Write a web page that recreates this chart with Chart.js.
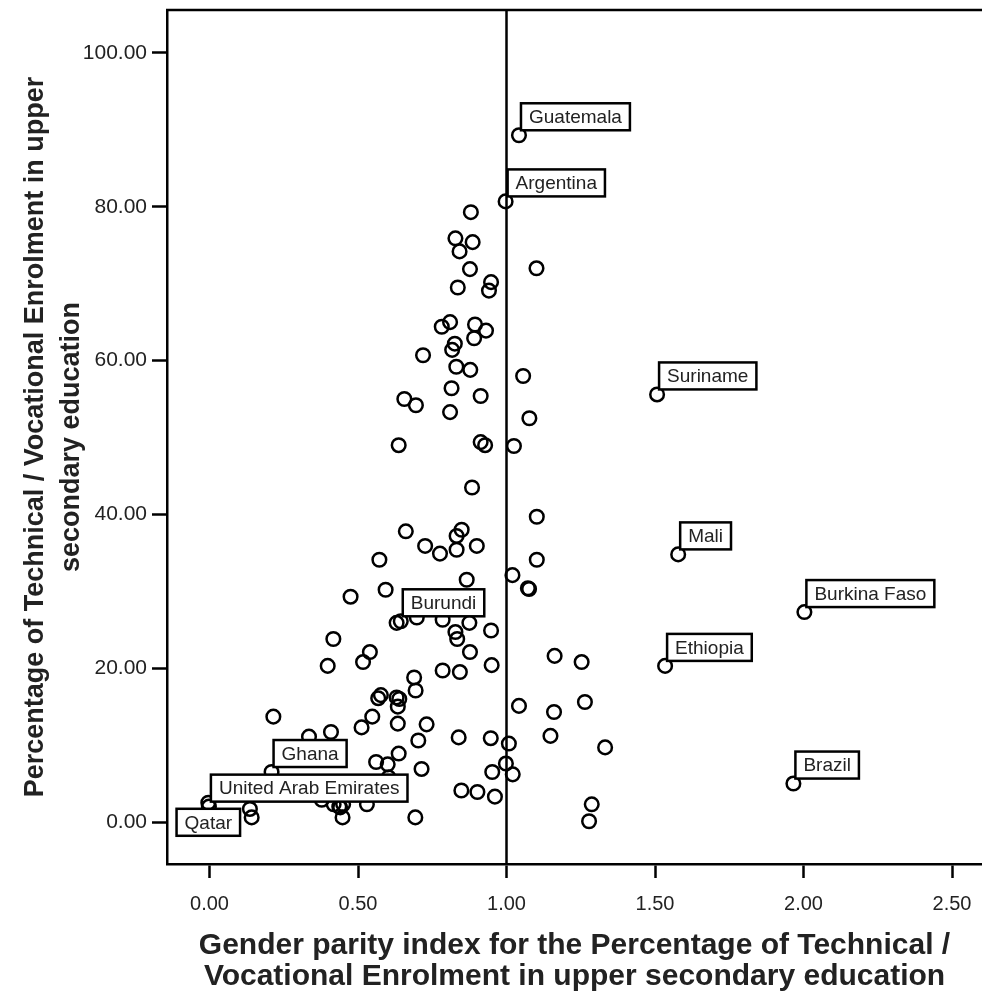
<!DOCTYPE html>
<html>
<head>
<meta charset="utf-8">
<script src="https://cdn.jsdelivr.net/npm/chart.js@4.4.1/dist/chart.umd.min.js"></script>
<style>
  html, body { margin: 0; padding: 0; background: #fff; }
  #wrap { width: 982px; height: 995px; }
</style>
</head>
<body>
<div id="wrap"><canvas id="myChart" width="982" height="995"></canvas></div>
<script>

// gender parity index (x) and % technical/vocational enrolment (y)
const gpi = [
  1.042, 0.997, 0.880, 0.828, 0.886, 0.842, 1.101, 0.877, 0.836, 0.948,
  0.941, 0.810, 0.782, 0.894, 0.931, 0.891, 0.826, 0.817, 0.719, 0.831,
  0.878, 1.056, 0.815, 0.913, 0.656, 0.695, 0.810, 1.077, 1.507, 0.637,
  0.913, 0.928, 1.025, 0.884, 1.102, 0.661, 0.849, 0.832, 0.726, 0.776,
  0.832, 0.900, 0.572, 1.102, 1.578, 0.866, 1.020, 1.072, 1.076, 0.593,
  0.475, 2.003, 0.630, 0.644, 0.698, 0.785, 0.875, 0.948, 0.828, 0.834,
  0.877, 1.162, 1.253, 0.417, 0.540, 0.517, 0.398, 0.785, 0.843, 0.950,
  1.534, 0.689, 0.694, 0.577, 0.568, 0.630, 0.639, 0.634, 1.042, 1.264,
  1.160, 0.548, 0.215, 0.512, 0.634, 0.731, 0.335, 0.409, 0.703, 0.839,
  0.947, 1.008, 1.148, 1.332, 0.637, 0.561, 0.600, 0.714, 0.998, 0.952,
  1.021, 0.209, 0.603, 1.966, 0.848, 0.902, 0.961, 0.378, 0.418, 0.437,
  0.450, 0.440, 0.530, 1.287, -0.004, -0.002, 0.136, 0.142, 0.448, 0.693,
  1.278
];
const pct = [
  89.3, 80.7, 79.3, 75.9, 75.4, 74.2, 72.0, 71.9, 69.5, 70.2,
  69.1, 65.0, 64.4, 64.7, 63.9, 62.9, 62.2, 61.4, 60.7, 59.2,
  58.8, 58.0, 56.4, 55.4, 55.0, 54.2, 53.3, 52.5, 55.6, 49.0,
  49.4, 49.0, 48.9, 43.5, 39.7, 37.8, 38.0, 37.2, 35.9, 34.9,
  35.4, 35.9, 34.1, 34.1, 34.8, 31.5, 32.1, 30.4, 30.3, 30.2,
  29.3, 27.3, 25.9, 26.1, 26.6, 26.3, 25.9, 24.9, 24.7, 23.8,
  22.1, 21.6, 20.8, 23.8, 22.1, 20.8, 20.3, 19.7, 19.5, 20.4,
  20.3, 18.8, 17.1, 16.5, 16.1, 16.2, 16.0, 15.0, 15.1, 15.6,
  14.3, 13.7, 13.7, 12.3, 12.8, 12.7, 11.1, 11.7, 10.6, 11.0,
  10.9, 10.2, 11.2, 9.7, 8.9, 7.8, 7.5, 6.9, 7.6, 6.5,
  6.2, 6.5, 5.8, 5.0, 4.1, 3.9, 3.3, 2.9, 2.3, 2.0,
  2.3, 1.9, 2.3, 2.3, 2.5, 2.0, 1.7, 0.6, 0.6, 0.6,
  0.1
];
const country = [];
country[0] = 'Guatemala';
country[1] = 'Argentina';
country[28] = 'Suriname';
country[44] = 'Mali';
country[51] = 'Burkina Faso';
country[53] = 'Burundi';
country[70] = 'Ethiopia';
country[101] = 'Ghana';
country[103] = 'Brazil';
country[114] = 'Qatar';
country[115] = 'United Arab Emirates';

const xTicks = [0, 0.5, 1, 1.5, 2, 2.5];
const yTicks = [0, 20, 40, 60, 80, 100];
const parityLine = 1;

const xTitle = ['Gender parity index for the Percentage of Technical /',
                'Vocational Enrolment in upper secondary education'];
const yTitle = ['Percentage of Technical / Vocational Enrolment in upper',
                'secondary education'];

const FONT = '"Liberation Sans", Arial, sans-serif';

// top border and the vertical line at parity = 1
const framePlugin = {
  id: 'frame',
  beforeDatasetsDraw(chart) {
    const {ctx, chartArea: a, scales: {x}} = chart;
    ctx.save();
    ctx.strokeStyle = '#000';
    ctx.lineWidth = 2.5;
    ctx.beginPath();
    ctx.moveTo(a.left - 1, a.top);
    ctx.lineTo(a.right, a.top);
    const px = x.getPixelForValue(parityLine);
    ctx.moveTo(px, a.top);
    ctx.lineTo(px, a.bottom);
    ctx.stroke();
    ctx.restore();
  }
};

// boxed country names next to their points
const labelPlugin = {
  id: 'countryLabels',
  afterDatasetsDraw(chart) {
    const {ctx, scales: {x, y}} = chart;
    ctx.save();
    ctx.font = '19px ' + FONT;
    ctx.textBaseline = 'middle';
    ctx.lineWidth = 2.5;
    country.forEach((name, i) => {
      if (!name) return;
      const px = x.getPixelForValue(gpi[i]);
      const py = y.getPixelForValue(pct[i]);
      const w = ctx.measureText(name).width + 16;
      const h = 27;
      let bx = px + 2, by = py - 5 - h;
      if (name === 'Qatar') { bx = px - w / 2; by = py + 6; }
      ctx.fillStyle = '#fff';
      ctx.fillRect(bx, by, w, h);
      ctx.strokeStyle = '#000';
      ctx.strokeRect(bx, by, w, h);
      ctx.fillStyle = '#222';
      ctx.fillText(name, bx + 8, by + h / 2 + 1);
    });
    ctx.restore();
  }
};

const noPad = s => {
  s.paddingLeft = 0; s.paddingRight = 0;
  s.paddingTop = 0; s.paddingBottom = 0;
};

const data = {
  datasets: [{
    data: gpi.map((v, i) => ({x: v, y: pct[i]})),
    pointRadius: 6.8,
    pointHoverRadius: 6.8,
    pointBorderWidth: 2.5,
    pointBorderColor: '#000',
    pointBackgroundColor: 'rgba(0,0,0,0)',
    showLine: false
  }]
};

const config = {
  type: 'scatter',
  data: data,
  options: {
    responsive: false,
    animation: false,
    events: [],
    layout: { autoPadding: false, padding: { top: 10, right: 0, left: 0, bottom: 0 } },
    plugins: {
      legend: { display: false },
      title: { display: false },
      tooltip: { enabled: false }
    },
    scales: {
      x: {
        type: 'linear',
        min: -0.1431,
        max: 2.601,
        afterBuildTicks: s => { s.ticks = xTicks.map(v => ({value: v})); },
        afterFit: s => { s.height = 131; noPad(s); },
        grid: { drawOnChartArea: false, drawTicks: true, tickLength: 14, tickWidth: 2.5, tickColor: '#000' },
        border: { display: true, color: '#000', width: 2.5 },
        ticks: {
          color: '#222',
          padding: 14,
          maxRotation: 0,
          font: { family: FONT, size: 20 },
          callback: v => Number(v).toFixed(2)
        },
        title: {
          display: true,
          text: xTitle,
          color: '#222',
          padding: { top: 0, bottom: 2.5 },
          font: { family: FONT, size: 30, weight: 'bold', lineHeight: '31px' }
        }
      },
      y: {
        type: 'linear',
        min: -5.46,
        max: 105.59,
        afterBuildTicks: s => { s.ticks = yTicks.map(v => ({value: v})); },
        afterFit: s => { s.width = 167; noPad(s); },
        grid: { drawOnChartArea: false, drawTicks: true, tickLength: 15, tickWidth: 2.5, tickColor: '#000' },
        border: { display: true, color: '#000', width: 2.5 },
        ticks: {
          color: '#222',
          padding: 5,
          font: { family: FONT, size: 21 },
          callback: v => Number(v).toFixed(2)
        },
        title: {
          display: true,
          text: yTitle,
          color: '#222',
          padding: { top: 18, bottom: 0 },
          font: { family: FONT, size: 27, weight: 'bold', lineHeight: '36px' }
        }
      }
    }
  },
  plugins: [framePlugin, labelPlugin]
};

const ctx = document.getElementById('myChart');
const myChart = new Chart(ctx, config);
</script>
</body>
</html>
